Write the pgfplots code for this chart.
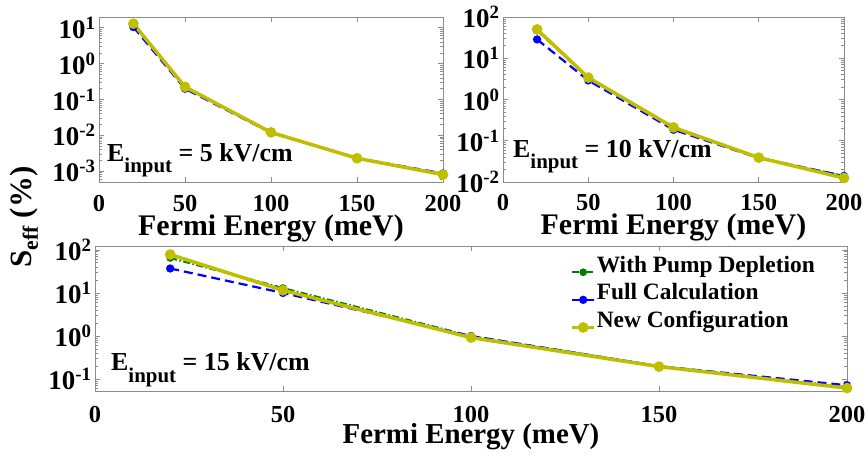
\documentclass[border=0pt]{standalone}
\usepackage{fontspec}
\setmainfont{Liberation Serif}
\usepackage{pgfplots}
\pgfplotsset{compat=1.18}
\definecolor{pgreen}{rgb}{0,0.5,0}
\definecolor{pblue}{rgb}{0,0,1}
\definecolor{pyellow}{rgb}{0.75,0.75,0}
\definecolor{axgray}{gray}{0.55}
\pgfplotsset{
  myaxis/.style={
    scale only axis,
    xmin=0, xmax=200, xtick={0,50,100,150,200},
    clip=false,
    axis line style={axgray, line width=0.8bp},
    every tick/.style={axgray, line width=0.7bp},
    major tick length=5bp, minor tick length=3bp,
    tick align=inside,
    tick label style={font=\fontsize{24.5}{24.5}\selectfont\bfseries, black},
    yticklabel style={font=\fontsize{27}{27}\selectfont\bfseries, black},
    xticklabel style={anchor=base, yshift=-29bp, inner sep=0pt},
    yticklabel={\pgfmathtruncatemacro{\ee}{round(\tick/ln(10))}10\textsuperscript{\ee}},
    xlabel={Fermi Energy (meV)},
    xlabel style={font=\fontsize{30}{30}\selectfont\bfseries, at={(axis description cs:0.5,0)}, anchor=base, yshift=-53bp, inner sep=0pt},
  },
  gline/.style={pgreen, line width=2bp, dash pattern=on 7bp off 2.5bp on 1.5bp off 2.5bp, mark=*, mark size=2.8bp, mark options={solid}},
  bline/.style={pblue, line width=2.2bp, dash pattern=on 9bp off 5bp, mark=*, mark size=3bp, mark options={solid}},
  yline/.style={pyellow, line width=3.5bp, mark=*, mark size=3.5bp, mark options={solid}},
}
\begin{document}
\begin{tikzpicture}
\useasboundingbox (0,0) rectangle (868bp,461bp);
% top left
\begin{axis}[ymode=log, /pgf/number format/assume math mode=true, myaxis, at={(99bp,279bp)}, anchor=south west, width=344bp, height=165bp,
  ymin=5e-4, ymax=20, ytick={1e-3,1e-2,1e-1,1,10},
  minor ytick={6e-4,7e-4,8e-4,9e-4,2e-3,3e-3,4e-3,5e-3,6e-3,7e-3,8e-3,9e-3,2e-2,3e-2,4e-2,5e-2,6e-2,7e-2,8e-2,9e-2,0.2,0.3,0.4,0.5,0.6,0.7,0.8,0.9,2,3,4,5,6,7,8,9}]
\addplot[gline] coordinates {(20,12) (50,0.22) (100,0.0121) (150,0.0023) (200,0.00085)};
\addplot[bline] coordinates {(20,10.5) (50,0.2) (100,0.0118) (150,0.0023) (200,0.00087)};
\addplot[yline] coordinates {(20,13) (50,0.225) (100,0.0121) (150,0.0023) (200,0.0008)};
\end{axis}
% top right
\begin{axis}[ymode=log, /pgf/number format/assume math mode=true, myaxis, at={(503bp,279bp)}, anchor=south west, width=341bp, height=165bp,
  ymin=1e-2, ymax=100, ytick={1e-2,1e-1,1,10,100},
  minor ytick={2e-2,3e-2,4e-2,5e-2,6e-2,7e-2,8e-2,9e-2,0.2,0.3,0.4,0.5,0.6,0.7,0.8,0.9,2,3,4,5,6,7,8,9,20,30,40,50,60,70,80,90}]
\addplot[gline] coordinates {(20,47) (50,3.3) (100,0.2) (150,0.039) (200,0.014)};
\addplot[bline] coordinates {(20,28.6) (50,2.9) (100,0.185) (150,0.038) (200,0.014)};
\addplot[yline] coordinates {(20,50) (50,3.4) (100,0.21) (150,0.039) (200,0.0125)};
\end{axis}
% bottom
\begin{axis}[ymode=log, /pgf/number format/assume math mode=true, myaxis, at={(95bp,70bp)}, anchor=south west, width=752bp, height=145bp,
  ymin=0.053, ymax=123, ytick={1e-1,1,10,100},
  minor ytick={6e-2,7e-2,8e-2,9e-2,0.2,0.3,0.4,0.5,0.6,0.7,0.8,0.9,2,3,4,5,6,7,8,9,20,30,40,50,60,70,80,90},
  xticklabel style={yshift=-2bp},
  xlabel style={font=\fontsize{29}{29}\selectfont\bfseries, yshift=1bp},
  legend style={draw=none, fill=none, at={(0.628,0.95)}, anchor=north west,
    font=\fontsize{23.5}{23.5}\selectfont\bfseries, row sep=4bp,
    nodes={inner sep=0.8bp, text height=16bp, text depth=6bp}},
  legend cell align=left,
  legend image code/.code={\draw[mark repeat=2,mark phase=2,#1] plot coordinates {(0bp,-5bp) (11bp,-5bp) (22bp,-5bp)};}]
\addplot[gline] coordinates {(20,65) (50,13) (100,1.0) (150,0.2) (200,0.066)};
\addplot[bline] coordinates {(20,37) (50,10) (100,1.0) (150,0.2) (200,0.072)};
\addplot[yline] coordinates {(20,78) (50,11.5) (100,0.92) (150,0.195) (200,0.062)};
\legend{With Pump Depletion, Full Calculation, New Configuration}
\end{axis}
% annotations
\node[anchor=base west, inner sep=0] at (107bp,299bp) {\fontsize{26}{26}\selectfont\bfseries E\raisebox{-11bp}{\fontsize{21}{21}\selectfont input} = 5 kV/cm};
\node[anchor=base west, inner sep=0] at (513bp,303bp) {\fontsize{26}{26}\selectfont\bfseries E\raisebox{-11bp}{\fontsize{21}{21}\selectfont input} = 10 kV/cm};
\node[anchor=base west, inner sep=0] at (111bp,90bp) {\fontsize{26}{26}\selectfont\bfseries E\raisebox{-12bp}{\fontsize{21}{21}\selectfont input} = 15 kV/cm};
\node[rotate=90, inner sep=0] at (24bp,244bp) {\fontsize{31}{31}\selectfont\bfseries S\textsubscript{eff} (\%)};
\end{tikzpicture}
\end{document}
